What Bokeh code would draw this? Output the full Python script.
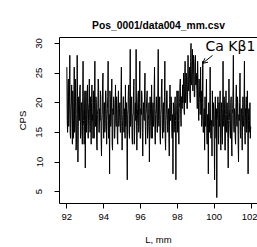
from bokeh.plotting import figure
from bokeh.models import LinearAxis, Range1d, FixedTicker, Arrow, OpenHead, Label, Title
from bokeh.embed import file_html
from bokeh.resources import INLINE

# ---- data ----
x_start = 92.0
x_step = 0.02
cps_a = [26, 17, 15, 22, 24, 16, 18, 21, 28, 15, 14, 19, 20, 23, 17, 13, 22, 18, 14, 20,
         26, 15, 16, 24, 19, 12, 13, 18, 28, 21, 10, 16, 21, 19, 17, 22, 23, 14, 15, 20,
         20, 16, 13, 21, 27, 17, 16, 13, 19, 22, 9, 18, 22, 15, 18, 21, 23, 16, 14, 19,
         20, 24, 17, 15, 21, 18, 13, 20, 23, 17]
cps_b = [18, 14, 22, 19, 14, 20, 27, 16, 16, 21, 20, 13, 12, 18, 19, 24, 23, 15, 15, 19,
         17, 22, 21, 14, 11, 17, 18, 23, 25, 16, 14, 20, 20, 15, 16, 22, 22, 18, 13, 17,
         19, 21, 27, 14, 15, 18, 8, 22, 21, 16, 17, 20, 24, 13, 12, 19, 18, 21, 20, 14,
         14, 18, 23, 17, 16, 21, 19, 14, 13, 20, 22, 16, 17, 19, 20, 15, 15, 22, 26, 17,
         12, 16, 18, 21, 21, 15, 19, 17, 14, 23]
cps_c = [16, 19, 20, 14, 7, 18, 19, 22, 23, 15, 14, 21, 29, 16, 17, 20, 21, 14, 13, 18,
         18, 22, 24, 13, 15, 19, 20, 17, 29, 18, 12, 16, 19, 21, 22, 15, 16, 20, 27, 14,
         14, 19, 18, 22, 21, 15, 11, 17, 20, 18, 17, 22, 25, 16, 13, 18, 19, 21, 22, 14,
         15, 17, 18, 20, 10, 16, 21, 19, 16, 14, 23, 18, 14, 19, 20, 16, 17, 22, 26, 15]
cps_d = [13, 18, 19, 21, 18, 15, 15, 22, 29, 17, 16, 20, 21, 14, 13, 18, 19, 23, 24, 16,
         14, 19, 20, 15, 17, 21, 27, 14, 12, 17, 18, 22, 22, 16, 15, 18, 19, 14, 11, 20,
         23, 17, 17, 21, 20, 15, 14, 18, 8, 20, 19, 15, 16, 20, 21, 17, 7, 18, 18, 22,
         15, 19, 22, 17, 13, 19, 20, 23, 24, 18, 16, 21, 21, 19, 23]
cps_e = [20, 22, 25, 19, 18, 24, 27, 20, 21, 25, 24, 19, 19, 23, 28, 22, 22, 25, 26, 21,
         20, 27, 30, 23, 23, 26, 29, 22, 24, 28, 27, 21, 21, 26, 28, 23, 25, 24, 22, 19,
         27, 23, 20, 17, 24, 21, 21, 18, 26, 20]
cps_f = [22, 16, 17, 20, 27, 15, 15, 18, 19, 12, 21, 17, 16, 20, 24, 14, 13, 18, 18, 8,
         20, 17, 15, 19, 26, 16, 14, 17, 17, 11, 22, 18, 16, 20, 19, 14, 7, 18, 21, 16,
         14, 19, 4, 17, 18, 21, 15, 13, 20, 16, 19, 22, 14, 12, 18]
cps_g = [20, 15, 13, 19, 27, 17, 16, 21, 19, 12, 12, 18, 22, 16, 15, 20, 18, 14, 9, 17,
         24, 19, 17, 15, 14, 20, 21, 13, 11, 18, 19, 22, 28, 16, 15, 19, 18, 14, 13, 20,
         23, 17, 16, 21, 20, 13, 10, 18, 17, 20, 25, 15, 14, 19, 19, 16, 12, 18, 21, 17,
         16, 20, 27, 15, 13, 19, 18, 21, 15, 16, 22, 18, 8, 17, 19, 15, 17, 20, 14, 16]
cps = cps_a + cps_b + cps_c + cps_d + cps_e + cps_f + cps_g
L_mm = [round(x_start + x_step * i, 3) for i in range(len(cps))]

x_ticks = [92, 94, 96, 98, 100, 102]
y_ticks = [5, 10, 15, 20, 25, 30]
title_text = "Pos_0001/data004_mm.csv"
x_label = "L, mm"
y_label = "CPS"
peak_label = "Ca K\u03b21"
peak_label_pos = (99.53, 29.5)
peak_arrow = (99.91, 27.99, 99.37, 26.64)

# ---- figure ----
FONT = "Liberation Sans"
p = figure(width=257, height=247, output_backend="svg", toolbar_location=None,
           x_range=Range1d(91.6, 102.35), y_range=Range1d(3.0, 31.0),
           x_axis_location=None, y_axis_location=None,
           min_border_left=59, min_border_right=0, min_border_top=37, min_border_bottom=43)
p.outline_line_color = None
p.xgrid.visible = False
p.ygrid.visible = False
p.background_fill_color = "white"
p.border_fill_color = "white"

p.line(L_mm, cps, line_color="black", line_width=1)

def style_axis(ax):
    ax.axis_line_color = "black"
    ax.axis_line_width = 1
    ax.major_tick_line_color = "black"
    ax.major_tick_out = 5
    ax.major_tick_in = 0
    ax.minor_tick_line_color = None
    ax.major_label_text_font = FONT
    ax.major_label_text_font_size = "9.5px"
    ax.major_label_text_color = "black"
    ax.axis_label_text_font = FONT
    ax.axis_label_text_font_size = "9.5px"
    ax.axis_label_text_font_style = "normal"
    ax.axis_label_text_color = "black"

xax = LinearAxis(ticker=FixedTicker(ticks=x_ticks), axis_label=x_label)
style_axis(xax)
xax.major_label_standoff = 5
xax.axis_label_standoff = 11
p.add_layout(xax, "below")

yax = LinearAxis(ticker=FixedTicker(ticks=y_ticks), axis_label=y_label)
style_axis(yax)
yax.major_label_orientation = "parallel"
yax.major_label_standoff = 12
yax.axis_label_standoff = 6
p.add_layout(yax, "left")

top = LinearAxis(ticker=FixedTicker(ticks=[]))
top.axis_line_color = "black"
top.major_label_text_font_size = "0px"
top.major_tick_line_color = None
top.minor_tick_line_color = None
p.add_layout(top, "above")

t = Title(text=title_text, align="center", text_font=FONT, text_font_size="10.3px",
          text_font_style="bold", text_color="black", standoff=14)
p.add_layout(t, "above")

p.add_layout(Label(x=peak_label_pos[0], y=peak_label_pos[1], text=peak_label,
                   text_font="DejaVu Sans", text_font_size="14px", text_color="black",
                   text_baseline="middle", text_align="left"))
p.add_layout(Arrow(x_start=peak_arrow[0], y_start=peak_arrow[1],
                   x_end=peak_arrow[2], y_end=peak_arrow[3],
                   line_color="black", line_width=1,
                   end=OpenHead(size=5, line_color="black", line_width=1)))

open("out.html", "w").write(file_html(p, INLINE))
